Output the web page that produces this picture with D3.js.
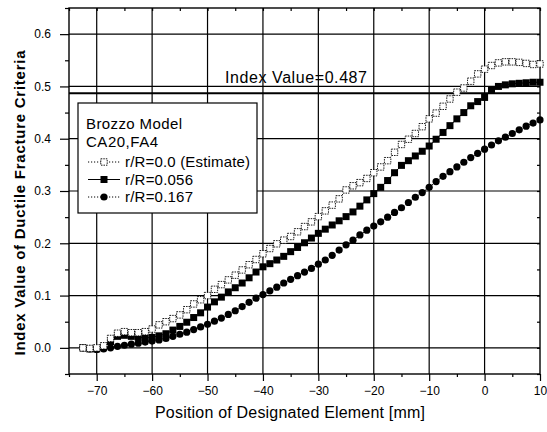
<!DOCTYPE html>
<html>
<head>
<meta charset="utf-8">
<script src="https://cdn.jsdelivr.net/npm/d3@7"></script>
<style>
  body { margin: 0; background: #fff; }
  svg { font-family: "Liberation Sans", Arial, sans-serif; }
</style>
</head>
<body>
<div id="chart"></div>
<script>
// element positions along the workpiece [mm]
var positions = [-72.5,-71.25,-70,-68.75,-67.5,-66.25,-65,-63.75,-62.5,-61.25,-60,-58.75,-57.5,-56.25,-55,-53.75,
  -52.5,-51.25,-50,-48.75,-47.5,-46.25,-45,-43.75,-42.5,-41.25,-40,-38.75,-37.5,-36.25,-35,-33.75,-32.5,-31.25,
  -30,-28.75,-27.5,-26.25,-25,-23.75,-22.5,-21.25,-20,-18.75,-17.5,-16.25,-15,-13.75,-12.5,-11.25,-10,-8.75,
  -7.5,-6.25,-5,-3.75,-2.5,-1.25,0,1.25,2.5,3.75,5,6.25,7.5,8.75,10];

// r/R = 0.0 (Estimate)
var rR000 = [0.000,-0.001,0.000,0.004,0.018,0.028,0.031,0.029,0.029,0.031,0.036,0.044,0.050,0.056,0.063,0.073,
  0.084,0.092,0.100,0.112,0.121,0.130,0.139,0.149,0.159,0.169,0.180,0.190,0.199,0.206,0.213,0.222,0.232,0.241,
  0.251,0.262,0.273,0.285,0.302,0.310,0.316,0.324,0.335,0.346,0.358,0.374,0.389,0.399,0.410,0.423,0.438,0.449,
  0.462,0.476,0.489,0.497,0.510,0.524,0.533,0.540,0.545,0.547,0.547,0.546,0.544,0.542,0.543];

// r/R = 0.056
var rR056 = [0.000,-0.002,-0.002,0.002,0.012,0.022,0.024,0.022,0.020,0.019,0.020,0.023,0.027,0.034,0.041,0.049,
  0.058,0.067,0.078,0.088,0.097,0.107,0.115,0.124,0.134,0.145,0.155,0.161,0.168,0.175,0.184,0.192,0.201,0.210,
  0.219,0.227,0.235,0.243,0.251,0.260,0.271,0.283,0.295,0.307,0.320,0.335,0.349,0.358,0.367,0.376,0.386,0.399,
  0.412,0.425,0.438,0.450,0.463,0.471,0.479,0.493,0.500,0.503,0.505,0.506,0.507,0.508,0.508];

// r/R = 0.167
var rR167 = [0.000,-0.002,-0.003,-0.002,0.000,0.003,0.005,0.007,0.009,0.011,0.013,0.015,0.018,0.022,0.026,0.030,
  0.035,0.040,0.045,0.051,0.057,0.064,0.071,0.079,0.087,0.095,0.102,0.109,0.116,0.124,0.131,0.138,0.145,0.152,
  0.160,0.168,0.177,0.187,0.197,0.206,0.216,0.225,0.233,0.241,0.250,0.259,0.268,0.278,0.288,0.297,0.307,0.318,
  0.328,0.337,0.346,0.355,0.364,0.372,0.380,0.388,0.396,0.403,0.410,0.417,0.424,0.430,0.436];

var seriesNames = ["r/R=0.0 (Estimate)", "r/R=0.056", "r/R=0.167"];
var legendTitle = ["Brozzo Model", "CA20,FA4"];
var xTicks = [-70,-60,-50,-40,-30,-20,-10,0,10];
var xMinor = [-75,-65,-55,-45,-35,-25,-15,-5,5];
var yTicks = [0.0,0.1,0.2,0.3,0.4,0.5,0.6];
var yMinor = [-0.05,0.05,0.15,0.25,0.35,0.45,0.55,0.65];
var indexValue = 0.487;

var W = 547, H = 432;
var pL = 69, pR = 540, pT = 8, pB = 374;

var svg = d3.select("#chart").append("svg")
    .attr("width", W)
    .attr("height", H);

var x = d3.scaleLinear().domain([-75, 10]).range([pL, pR]);
var y = d3.scaleLinear().domain([-0.05, 0.65]).range([pB, pT]);

// grid
svg.append("g")
    .selectAll("line")
    .data(xTicks.filter(function(d) { return d > -75 && d < 10; }))
    .enter().append("line")
    .attr("x1", function(d) { return x(d); })
    .attr("x2", function(d) { return x(d); })
    .attr("y1", pT).attr("y2", pB)
    .attr("stroke", "#000").attr("stroke-width", 1.2);

svg.append("g")
    .selectAll("line")
    .data(yTicks)
    .enter().append("line")
    .attr("y1", function(d) { return y(d); })
    .attr("y2", function(d) { return y(d); })
    .attr("x1", pL).attr("x2", pR)
    .attr("stroke", "#000").attr("stroke-width", 1.2);

// index value line
svg.append("line")
    .attr("x1", pL).attr("x2", pR)
    .attr("y1", y(indexValue)).attr("y2", y(indexValue))
    .attr("stroke", "#000").attr("stroke-width", 2);

svg.append("text")
    .attr("x", 225).attr("y", 83)
    .attr("font-size", 16)
    .attr("textLength", 142)
    .text("Index Value=" + indexValue);

// axes
function noDomain(g) { g.select(".domain").remove(); }

svg.append("g")
    .attr("transform", "translate(0," + pB + ")")
    .call(d3.axisBottom(x).tickValues(xTicks).tickSize(7).tickPadding(5)
        .tickFormat(d3.format("d")))
    .call(noDomain)
    .call(function(g) { g.selectAll("text").attr("font-size", 12).attr("fill", "#000"); });

svg.append("g")
    .attr("transform", "translate(0," + pB + ")")
    .call(d3.axisBottom(x).tickValues(xMinor).tickSize(3).tickFormat(""))
    .call(noDomain);

svg.append("g")
    .attr("transform", "translate(" + pL + ",0)")
    .call(d3.axisLeft(y).tickValues(yTicks).tickSize(9).tickPadding(9)
        .tickFormat(d3.format(".1f")))
    .call(noDomain)
    .call(function(g) { g.selectAll("text").attr("font-size", 12).attr("fill", "#000"); });

svg.append("g")
    .attr("transform", "translate(" + pL + ",0)")
    .call(d3.axisLeft(y).tickValues(yMinor).tickSize(4).tickFormat(""))
    .call(noDomain);

// inward ticks on top and right
svg.append("g")
    .attr("transform", "translate(0," + pT + ")")
    .call(d3.axisBottom(x).tickValues(xMinor.concat(xTicks)).tickSize(3).tickFormat(""))
    .call(noDomain);

svg.append("g")
    .attr("transform", "translate(" + pR + ",0)")
    .call(d3.axisLeft(y).tickValues(yMinor.concat(yTicks)).tickSize(3).tickFormat(""))
    .call(noDomain);

svg.selectAll(".tick line").attr("stroke", "#000").attr("stroke-width", 1.2);

// frame
svg.append("rect")
    .attr("x", pL).attr("y", pT)
    .attr("width", pR - pL).attr("height", pB - pT)
    .attr("fill", "none").attr("stroke", "#000").attr("stroke-width", 1.4);

// series
var data = [rR000, rR056, rR167];
var pts = data.map(function(vals) {
    return vals.map(function(v, i) { return [positions[i], v]; });
});

var line = d3.line()
    .x(function(d) { return x(d[0]); })
    .y(function(d) { return y(d[1]); });

var dash = ["1.2,1.8", null, "1.2,1.8"];

[2, 1, 0].forEach(function(k) {
    svg.append("path")
        .datum(pts[k])
        .attr("d", line)
        .attr("fill", "none")
        .attr("stroke", "#000")
        .attr("stroke-width", 1)
        .attr("stroke-dasharray", dash[k]);
});

function drawMarker(g, k, cx, cy) {
    if (k === 0) {
        g.append("rect").attr("x", cx - 3.2).attr("y", cy - 3.2)
            .attr("width", 6.4).attr("height", 6.4)
            .attr("fill", "#fff").attr("stroke", "#000")
            .attr("stroke-width", 0.9).attr("stroke-dasharray", "1.5,1");
    } else if (k === 1) {
        g.append("rect").attr("x", cx - 3.5).attr("y", cy - 3.5)
            .attr("width", 7).attr("height", 7).attr("fill", "#000");
    } else {
        g.append("circle").attr("cx", cx).attr("cy", cy).attr("r", 3.6).attr("fill", "#000");
    }
}

var markers = svg.append("g");
[2, 1, 0].forEach(function(k) {
    pts[k].forEach(function(d) { drawMarker(markers, k, x(d[0]), y(d[1])); });
});

// legend
var lg = svg.append("g");
lg.append("rect")
    .attr("x", 78).attr("y", 103).attr("width", 179).attr("height", 110)
    .attr("fill", "#fff").attr("stroke", "#000").attr("stroke-width", 1.2);

var titleWidths = [96, 72];
legendTitle.forEach(function(t, i) {
    lg.append("text").attr("x", 86).attr("y", 129 + i * 17.5)
        .attr("font-size", 15)
        .attr("textLength", titleWidths[i])
        .text(t);
});

var entryWidths = [125, 68, 68];
seriesNames.forEach(function(name, k) {
    var yy = 162 + k * 17.5;
    lg.append("line").attr("x1", 88).attr("x2", 120).attr("y1", yy).attr("y2", yy)
        .attr("stroke", "#000").attr("stroke-width", 1)
        .attr("stroke-dasharray", dash[k]);
    drawMarker(lg, k, 104, yy);
    lg.append("text").attr("x", 125).attr("y", yy + 5)
        .attr("font-size", 15)
        .attr("textLength", entryWidths[k])
        .text(name);
});

// axis titles
svg.append("text")
    .attr("x", 290).attr("y", 418)
    .attr("text-anchor", "middle")
    .attr("font-size", 16)
    .attr("textLength", 270)
    .text("Position of Designated Element [mm]");

svg.append("text")
    .attr("transform", "translate(25," + 203 + ") rotate(-90)")
    .attr("text-anchor", "middle")
    .attr("font-size", 15)
    .attr("font-weight", "bold")
    .attr("textLength", 305)
    .text("Index Value of Ductile Fracture Criteria");
</script>
</body>
</html>
